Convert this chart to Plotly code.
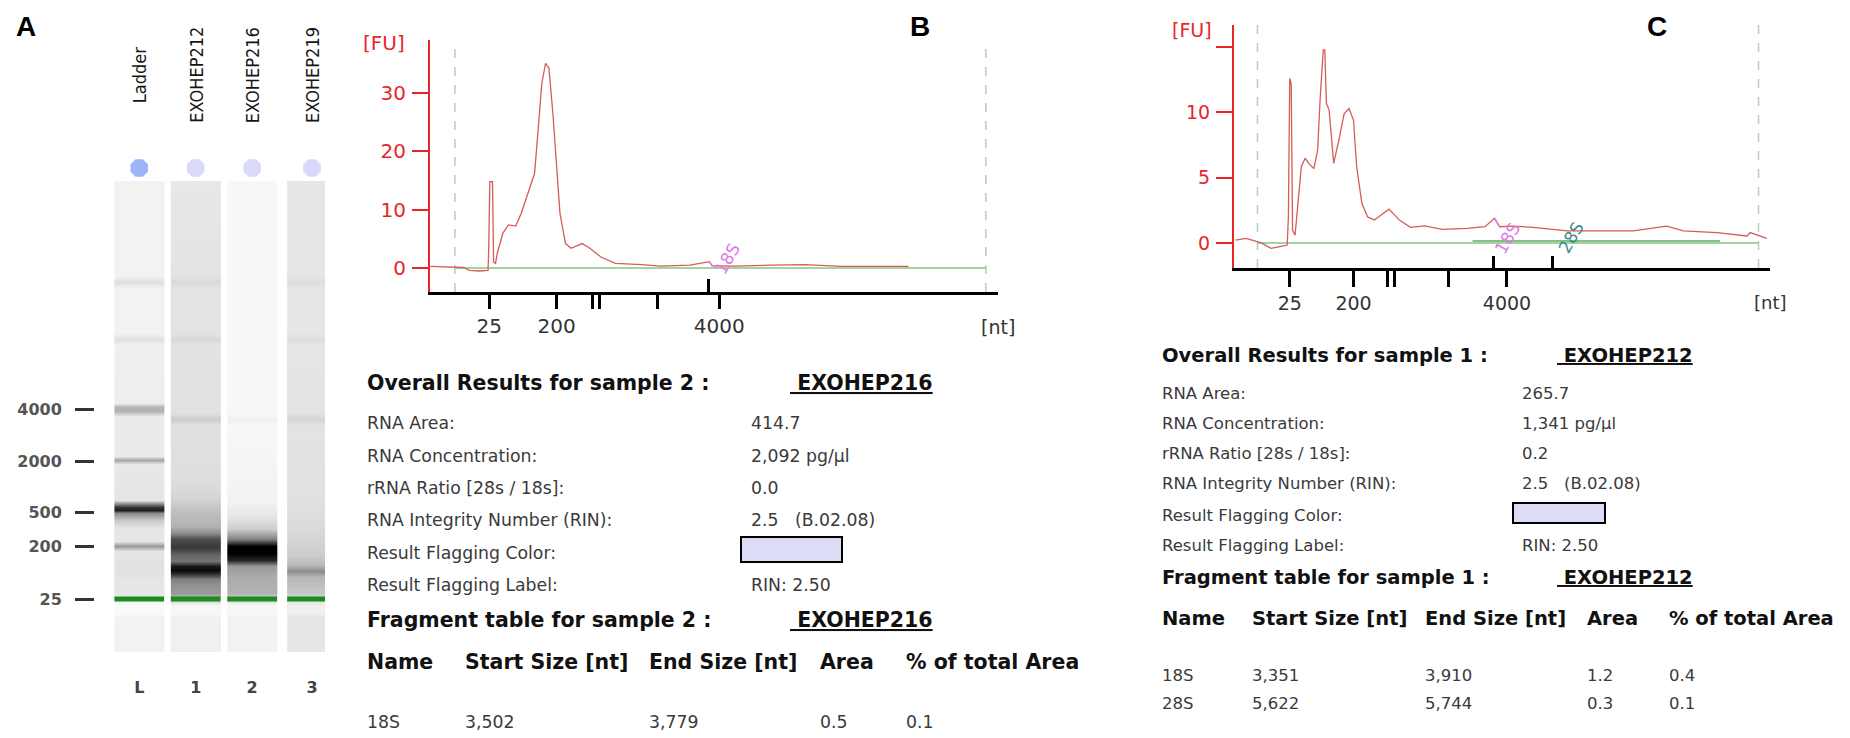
"""
Bioanalyzer RNA gel and electropherograms (panels A, B, C).
"""
import numpy as np
import plotly.graph_objects as go

# page is drawn with the default 8px body margin, so the figure is a bit smaller
PAGE_W, PAGE_H, OFFSET = 1850, 738, 8
W, H = PAGE_W - OFFSET, PAGE_H - OFFSET

# ---- panel A: gel ----
lane_names = ["Ladder", "EXOHEP212", "EXOHEP216", "EXOHEP219"]
lane_ids = ["L", "1", "2", "3"]
lane_pos = [0, 1, 2, 3.06]
lane_dot_colors = ["#9db5f6", "#d9d9fb", "#d9d9fb", "#d9d9fb"]
ladder_sizes = ["4000", "2000", "500", "200", "25"]
ladder_pos = [228, 280, 331, 365, 418]      # migration distance from gel top
marker_pos = 418                            # 25 nt lower marker

ladder_rows = [0, 95, 101, 107, 152, 158, 164, 222, 226, 230, 235, 275, 279, 283,
               319, 326, 329, 332, 339, 347, 360, 365, 370, 385, 400, 412, 424, 432, 436, 471]
ladder_dark = [0.05, 0.05, 0.13, 0.05, 0.05, 0.12, 0.06, 0.07, 0.3, 0.3, 0.08, 0.08, 0.35, 0.09,
               0.1, 0.8, 0.88, 0.45, 0.22, 0.1, 0.1, 0.4, 0.1, 0.12, 0.1, 0.1, 0.02, 0.02, 0.05, 0.05]

lane1_rows = [0, 40, 95, 101, 107, 152, 158, 164, 232, 238, 244, 300, 318, 330, 345, 352,
              358, 366, 374, 380, 385, 389, 393, 398, 405, 412, 424, 432, 436, 471]
lane1_dark = [0.09, 0.1, 0.11, 0.15, 0.11, 0.11, 0.15, 0.11, 0.12, 0.2, 0.12, 0.13, 0.17, 0.25, 0.3, 0.45,
              0.7, 0.78, 0.6, 0.55, 0.9, 0.97, 0.8, 0.5, 0.42, 0.4, 0.03, 0.03, 0.06, 0.06]

lane2_rows = [0, 200, 232, 238, 244, 320, 335, 348, 358, 365, 372, 379, 385, 395, 412, 424, 432, 436, 471]
lane2_dark = [0.03, 0.03, 0.03, 0.06, 0.03, 0.05, 0.1, 0.2, 0.5, 1.0, 1.0, 0.85, 0.4, 0.33, 0.3, 0.03, 0.03, 0.05, 0.05]

lane3_rows = [0, 95, 101, 107, 152, 158, 164, 232, 238, 244, 320, 350, 375, 384, 390, 396, 405, 412, 424, 432, 436, 471]
lane3_dark = [0.1, 0.1, 0.13, 0.1, 0.1, 0.13, 0.1, 0.11, 0.17, 0.11, 0.12, 0.15, 0.2, 0.28, 0.45, 0.28, 0.25, 0.22,
              0.06, 0.06, 0.1, 0.1]

# ---- panels B / C: electropherograms (migration time [s], fluorescence [FU]) ----
ladder_times = [23.1, 29.2, 32.45, 33.1, 38.3, 43.9]
ladder_tick_text = ["25", "200", "", "", "", "4000"]
marker_times = [20, 68]   # lower / upper marker (dashed lines)

b_time = [17.8, 19.0, 20.8, 21.3, 22.2, 23.0, 23.06, 23.16, 23.4, 23.5, 23.67, 23.83, 24.34, 24.84, 25.5,
          26.0, 26.7, 27.2, 27.5, 27.86, 28.2, 28.5, 28.86, 29.2, 29.5, 30.0, 30.5, 31.5, 32.2, 33.2,
          34.5, 36.9, 38.6, 41.25, 42.6, 43.0, 43.25, 45.3, 48.6, 51.6, 55.0, 61.0]
b_fu = [0.3, 0.2, 0.1, -0.4, -0.5, -0.4, 3.5, 14.8, 14.8, 1.0, 0.8, 2.5, 6.0, 7.4, 7.2,
        9.4, 13.4, 16.2, 23.1, 31.7, 35.1, 34.3, 26.5, 17.4, 9.4, 4.2, 3.4, 4.2, 3.4, 1.9,
        0.8, 0.6, 0.35, 0.5, 0.9, 1.1, 0.4, 0.35, 0.5, 0.6, 0.3, 0.3]
b_frag_names = ["18S"]
b_frag_start_t = [42.9]
b_frag_end_t = [43.5]
b_frag_label_t = [44.6]

c_time = [17.9, 18.9, 20.3, 21.3, 22.5, 22.85, 22.96, 23.09, 23.23, 23.36, 23.6, 23.9, 24.2, 24.56, 24.9,
          25.4, 25.76, 26.0, 26.3, 26.45, 26.6, 26.86, 27.3, 27.8, 28.3, 28.77, 29.2, 29.5, 30.0, 30.55,
          31.2, 32.6, 33.6, 34.65, 36.0, 37.7, 40.1, 41.8, 42.7, 43.2, 44.5, 46.4, 48.35, 49.7, 52.85,
          56.0, 59.2, 60.8, 64.0, 66.9, 67.2, 68.8]
c_fu = [0.23, 0.36, 0.03, -0.4, -0.22, -0.15, 2.0, 12.6, 12.2, 1.0, 0.6, 3.3, 5.85, 6.5, 6.1,
        5.7, 7.1, 11.0, 14.8, 14.8, 10.7, 10.2, 6.1, 7.9, 9.9, 10.3, 9.4, 5.85, 3.04, 2.0,
        1.76, 2.6, 1.76, 1.2, 1.32, 1.05, 1.12, 1.25, 1.9, 1.25, 1.3, 1.2, 1.07, 0.94, 0.94,
        0.94, 1.3, 0.94, 0.8, 0.54, 0.8, 0.36]
c_frag_names = ["18S", "28S"]
c_frag_start_t = [42.6, 48.3]
c_frag_end_t = [43.7, 48.6]
c_frag_label_t = [43.95, 50.0]
c_frag_baseline_t = [40.6, 64.3]

# ---- result tables ----
result_labels = ["RNA Area:", "RNA Concentration:", "rRNA Ratio [28s / 18s]:",
                 "RNA Integrity Number (RIN):", "Result Flagging Color:", "Result Flagging Label:"]
b_sample, b_name = "2", "EXOHEP216"
b_values = ["414.7", "2,092 pg/µl", "0.0", "2.5\u00a0\u00a0\u00a0(B.02.08)", "", "RIN: 2.50"]
c_sample, c_name = "1", "EXOHEP212"
c_values = ["265.7", "1,341 pg/µl", "0.2", "2.5\u00a0\u00a0\u00a0(B.02.08)", "", "RIN: 2.50"]
frag_columns = ["Name", "Start Size [nt]", "End Size [nt]", "Area", "% of total Area"]
b_frag_rows = [["18S", "3,502", "3,779", "0.5", "0.1"]]
c_frag_rows = [["18S", "3,351", "3,910", "1.2", "0.4"],
               ["28S", "5,622", "5,744", "0.3", "0.1"]]


def px(x):
    return (x - OFFSET) / W


def py(y):
    return 1 - (y - OFFSET) / H


TRACE_RED = "#d65c58"
AXIS_RED = "#e8262a"
FRAG_PINK = "#e07ae8"
FRAG_TEAL = "#3c8c8c"
FONT = "DejaVu Sans"

fig = go.Figure()

# gel lanes
gray = [[0, "rgb(255,255,255)"], [1, "rgb(0,0,0)"]]
half = 0.44
for c, rows, dark in zip(lane_pos, [ladder_rows, lane1_rows, lane2_rows, lane3_rows],
                         [ladder_dark, lane1_dark, lane2_dark, lane3_dark]):
    fig.add_trace(go.Heatmap(
        x=[c - half / 2, c + half / 2], y=rows, z=[[d, d] for d in dark],
        colorscale=gray, zmin=0, zmax=1, zsmooth="best", showscale=False,
        hoverinfo="skip", xaxis="x3", yaxis="y3"))

gx, gy = [], []
for c in lane_pos:
    gx += [c - half, c + half, None]
    gy += [marker_pos, marker_pos, None]
fig.add_trace(go.Scatter(x=gx, y=gy, mode="lines", line=dict(color="#1c8c1c", width=5),
                         hoverinfo="skip", xaxis="x3", yaxis="y3"))

# sample wells above the lanes (own thin strip axis)
fig.add_trace(go.Scatter(
    x=lane_pos, y=[0.5] * len(lane_pos), mode="markers",
    marker=dict(symbol="octagon", size=19, color=lane_dot_colors, line=dict(width=0)),
    hoverinfo="skip", xaxis="x3", yaxis="y6"))


def add_electropherogram(xa, ya, xfrag, t, fu, frag_start, frag_end, frag_colors):
    t = np.array(t)
    fu = np.array(fu)
    fig.add_trace(go.Scatter(x=marker_times, y=[0, 0], mode="lines",
                             line=dict(color="#86c486", width=1.5),
                             hoverinfo="skip", xaxis=xa, yaxis=ya))
    fig.add_trace(go.Scatter(x=t, y=fu, mode="lines", line=dict(color=TRACE_RED, width=1.3),
                             hoverinfo="skip", xaxis=xa, yaxis=ya))
    for s, e, col in zip(frag_start, frag_end, frag_colors):
        m = (t >= s) & (t <= e)
        fig.add_trace(go.Scatter(x=t[m], y=fu[m], mode="lines", line=dict(color=col, width=1.6),
                                 hoverinfo="skip", xaxis=xa, yaxis=ya))
    fig.add_trace(go.Scatter(x=frag_start, y=[0] * len(frag_start), mode="markers",
                             marker=dict(opacity=0), hoverinfo="skip", xaxis=xfrag, yaxis=ya))
    for mt in marker_times:
        fig.add_shape(type="line", xref=xa, yref=ya + " domain", x0=mt, x1=mt, y0=0, y1=1,
                      line=dict(color="#b4cfb4", width=1.5, dash="dash"), layer="below")


fig.add_trace(go.Scatter(x=c_frag_baseline_t, y=[0.15, 0.15], mode="lines",
                         line=dict(color="#5ea85e", width=1.5), hoverinfo="skip",
                         xaxis="x2", yaxis="y2"))
add_electropherogram("x", "y", "x4", b_time, b_fu, b_frag_start_t, b_frag_end_t, [FRAG_PINK])
add_electropherogram("x2", "y2", "x5", c_time, c_fu, c_frag_start_t, c_frag_end_t,
                     [FRAG_PINK, FRAG_TEAL])

t_range = [17.75, 69.1]


def time_axis(domain, size, ticklen):
    return dict(domain=domain, range=t_range, showgrid=False, zeroline=False,
                showline=True, linecolor="black", linewidth=2.5,
                tickvals=ladder_times, ticktext=ladder_tick_text, ticks="outside",
                ticklen=ticklen, tickwidth=2.5, tickcolor="black",
                tickfont=dict(family=FONT, size=size, color="#333"))


def fu_axis(domain, rng, vals, text, size):
    return dict(domain=domain, range=rng, showgrid=False, zeroline=False,
                showline=True, linecolor=AXIS_RED, linewidth=2.2,
                tickvals=vals, ticktext=text, ticks="outside", ticklen=16, tickwidth=2.2,
                tickcolor=AXIS_RED, ticklabelstandoff=2,
                tickfont=dict(family=FONT, size=size, color=AXIS_RED))


def frag_axis(base, yname, ticklen, vals):
    return dict(overlaying=base, anchor=yname, range=t_range, showgrid=False, zeroline=False,
                showline=False, showticklabels=False, tickvals=vals, ticks="inside",
                ticklen=ticklen, tickwidth=2.5, tickcolor="black")


annotations = []


def text(x, y, s, size, color="#333", bold=False, xanchor="left", family=FONT, angle=0,
         xref="paper", yref="paper"):
    annotations.append(dict(
        x=px(x) if xref == "paper" else x, y=py(y) if yref == "paper" else y,
        xref=xref, yref=yref, text="<b>%s</b>" % s if bold else s, showarrow=False,
        xanchor=xanchor, yanchor="middle", textangle=angle,
        font=dict(family=family, size=size, color=color)))


# panel letters
for letter, x in zip(["A", "B", "C"], [26, 920, 1657]):
    text(x, 27, letter, 28, color="black", bold=True, xanchor="center", family="Liberation Sans")

# lane names on top of gel
for c, name in zip(lane_pos, lane_names):
    text(c, 75, name, 18, color="#151515", xanchor="center", angle=-90,
         family="DejaVu Sans Condensed, Liberation Sans Narrow", xref="x3")

# electropherogram axis titles
text(384, 43, "[FU]", 20, color=AXIS_RED, xanchor="center")
text(1192, 30, "[FU]", 19, color=AXIS_RED, xanchor="center")
text(998, 327, "[nt]", 19, xanchor="center")
text(1770, 302, "[nt]", 18, xanchor="center")

# fragment labels on traces
for name, t0 in zip(b_frag_names, b_frag_label_t):
    text(t0, 1.6, name, 17, color=FRAG_PINK, xanchor="center", angle=-60, xref="x", yref="y")
for name, t0, col in zip(c_frag_names, c_frag_label_t, [FRAG_PINK, FRAG_TEAL]):
    text(t0, 0.4, name, 17, color=col, xanchor="center", angle=-60, xref="x2", yref="y2")


def result_block(x0, xv, xname, y_head, y_rows, y_frag, y_cols, y_frag_rows, col_x,
                 sample, name, values, frag_rows, head_size, body_size, box):
    text(x0, y_head, "Overall Results for sample %s :" % sample, head_size,
         color="#111", bold=True)
    text(xname, y_head, "<u>\u00a0%s</u>" % name, head_size, color="#111", bold=True)
    for lab, val, y in zip(result_labels, values, y_rows):
        text(x0, y, lab, body_size, color="#3a3a3a")
        if val:
            text(xv, y, val, body_size, color="#3a3a3a")
    text(x0, y_frag, "Fragment table for sample %s :" % sample, head_size,
         color="#111", bold=True)
    text(xname, y_frag, "<u>\u00a0%s</u>" % name, head_size, color="#111", bold=True)
    for col, x in zip(frag_columns, col_x):
        text(x, y_cols, col, head_size, color="#111", bold=True)
    for row, y in zip(frag_rows, y_frag_rows):
        for val, x in zip(row, col_x):
            text(x, y, val, body_size, color="#3a3a3a")
    fig.add_shape(type="rect", xref="paper", yref="paper",
                  x0=px(box[0]), x1=px(box[1]), y0=py(box[3]), y1=py(box[2]),
                  fillcolor="#dcdcf6", line=dict(color="black", width=2))


result_block(365, 749, 788, 383, [423, 456, 488, 520, 553, 585], 620, 662, [722],
             [365, 463, 647, 818, 904], b_sample, b_name, b_values, b_frag_rows,
             20.5, 17.3, (741, 842, 537, 562))
result_block(1160, 1520, 1555, 355, [393, 423, 453, 483, 515, 545], 577, 618, [675, 703],
             [1160, 1250, 1423, 1585, 1667], c_sample, c_name, c_values, c_frag_rows,
             19.5, 16.5, (1513, 1605, 503, 523))

fig.update_layout(
    width=W, height=H, margin=dict(l=0, r=0, t=0, b=0),
    paper_bgcolor="white", plot_bgcolor="white", showlegend=False,
    annotations=annotations,
    xaxis=time_axis([px(430), px(998)], 20, 14),
    yaxis=fu_axis([py(292), py(40)], [-4.1, 39.1], [0, 10, 20, 30], ["0", "10", "20", "30"], 20),
    xaxis2=dict(time_axis([px(1234), px(1770)], 19, 16), anchor="y2"),
    yaxis2=dict(fu_axis([py(268), py(25)], [-1.91, 16.7], [0, 5, 10, 15], ["0", "5", "10", ""], 19),
                anchor="x2"),
    xaxis4=frag_axis("x", "y", 13, b_frag_start_t),
    xaxis5=frag_axis("x2", "y2", 12, c_frag_start_t),
    xaxis3=dict(domain=[px(111), px(325)], range=[-0.5, 3.29], anchor="y3",
                showgrid=False, zeroline=False, showline=False,
                tickvals=lane_pos, ticktext=lane_ids, ticks="", ticklabelstandoff=24,
                tickfont=dict(family=FONT, size=16, color="#444", weight="bold")),
    yaxis3=dict(domain=[py(652), py(181)], range=[471, 0], anchor="free", position=px(94),
                showgrid=False, zeroline=False, showline=False,
                tickvals=ladder_pos, ticktext=ladder_sizes, ticks="outside", ticklen=19,
                tickwidth=3, tickcolor="#333", ticklabelstandoff=10,
                tickfont=dict(family=FONT, size=16, color="#555", weight="bold")),
    yaxis6=dict(domain=[py(180), py(156)], range=[0, 1], anchor="x3", visible=False),
)

fig.write_html("out.html")
